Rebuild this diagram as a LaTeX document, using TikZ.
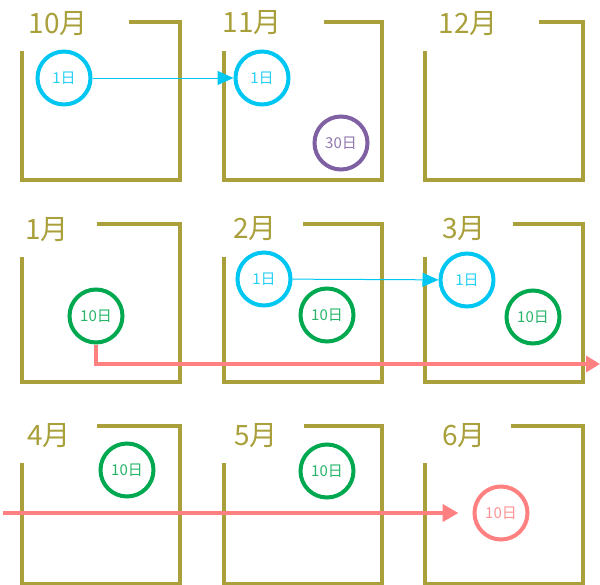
\documentclass[tikz,border=0pt]{standalone}
\usepackage{fontspec}
\newfontfamily\cjk{Noto Sans CJK JP}
\usetikzlibrary{arrows.meta,calc,positioning}
\definecolor{olive}{HTML}{A9A03B}
\definecolor{cyanc}{HTML}{00C6F2}
\definecolor{greenc}{HTML}{00A84F}
\definecolor{purplec}{HTML}{7E60A3}
\definecolor{pinkc}{HTML}{FF8080}
\tikzset{
 monthlbl/.style={text=olive,font=\cjk\fontsize{28}{28}\selectfont},
 day/.style={circle,draw=#1,text=#1!85,line width=4pt,minimum size=53pt,inner sep=0pt,font=\cjk\fontsize{15}{15}\selectfont},
}

\begin{document}
\begin{tikzpicture}[x=1pt,y=-1pt]
 \useasboundingbox (0,0) rectangle (600,584);
 % month frames: left, top, gap of top line, gap of left line
 \foreach \bx/\by/\gx/\gy in {22/22/107/29,224/22/100/29,425/22/114/29,
   22/224/75/33,224/224/79/33,425/224/88/33,
   22/426/75/37,224/426/80/37,425/426/86/37}
  \draw[olive,line width=4pt](\bx+\gx,\by)--(\bx+158,\by)--(\bx+158,\by+158)--(\bx,\by+158)--(\bx,\by+\gy);
 \node[monthlbl] (m10) at (58,24) {10月};
 \node[monthlbl] (m11) at (252,23) {11月};
 \node[monthlbl] (m12) at (468,24) {12月};
 \node[monthlbl] (m1) at (47,230) {1月};
 \node[monthlbl] (m2) at (255,229) {2月};
 \node[monthlbl] (m3) at (464,229) {3月};
 \node[monthlbl] (m4) at (49,436) {4月};
 \node[monthlbl] (m5) at (256,436) {5月};
 \node[monthlbl] (m6) at (464,436) {6月};
 % days
 \node[day=cyanc] (d10a) at (64,78) {1日};
 \node[day=cyanc] (d11a) at (262,78) {1日};
 \node[day=purplec] (d11e) at (341,143) {30日};
 \node[day=greenc] (d1j) at (96,316) {10日};
 \node[day=cyanc] (d2a) at (264,279) {1日};
 \node[day=greenc] (d2j) at (327,315) {10日};
 \node[day=cyanc] (d3a) at (467,280) {1日};
 \node[day=greenc] (d3j) at (533,317) {10日};
 \node[day=greenc] (d4j) at (127,470) {10日};
 \node[day=greenc] (d5j) at (327,471) {10日};
 \node[day=pinkc] (d6j) at (501,513) {10日};
 % arrows
 \draw[-{Triangle[length=16pt,width=14pt]},cyanc,line width=1pt](d10a)--(d11a);
 \draw[-{Triangle[length=16pt,width=14pt]},cyanc,line width=1pt](d2a)--(d3a);
 \coordinate (pinkend) at (600,364);
 \coordinate (pinkstart) at (3,513);
 \draw[-{Triangle[length=14pt,width=16pt]},pinkc,line width=4pt](d1j.south)|-(pinkend);
 \draw[-{Triangle[length=16pt,width=17pt]},pinkc,line width=4pt,shorten >=14pt](pinkstart)--(d6j);
\end{tikzpicture}
\end{document}
